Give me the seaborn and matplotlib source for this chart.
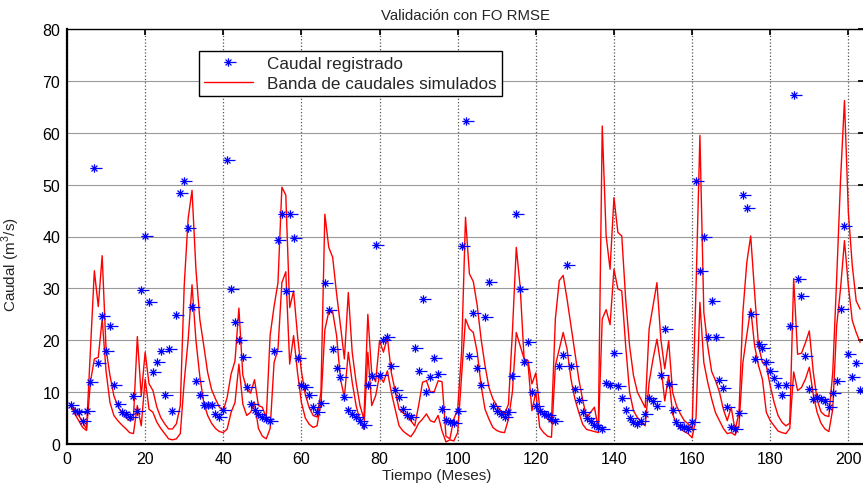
import numpy as np
import pandas as pd
import matplotlib
matplotlib.use("Agg")
import matplotlib.pyplot as plt
import seaborn as sns
from matplotlib.path import Path

# ---- data ----
months = list(range(1, 204))

observed = [7.6, 6.4, 6.1, 4.4, 6.3, 11.9, 53.3, 15.7, 24.7, 17.9,
            22.8, 11.4, 7.8, 6.2, 5.8, 5.3, 9.2, 6.3, 29.7, 40.1,
            27.4, 13.8, 15.9, 18.0, 9.5, 18.3, 6.3, 24.9, 48.3, 50.7,
            41.6, 26.5, 12.2, 9.4, 7.5, 7.6, 7.6, 5.8, 5.3, 6.6,
            54.8, 29.9, 23.6, 20.0, 16.8, 10.9, 7.8, 6.6, 5.8, 5.3,
            4.8, 4.4, 17.9, 39.3, 44.3, 29.4, 44.3, 39.8, 16.6, 11.4,
            10.9, 9.4, 7.1, 6.2, 8.0, 31.0, 25.8, 18.3, 14.6, 13.0,
            9.0, 6.6, 5.8, 5.3, 4.5, 3.7, 11.4, 13.2, 38.4, 13.3,
            20.0, 20.7, 15.1, 10.4, 9.0, 6.7, 5.6, 5.3, 18.6, 14.1,
            27.9, 10.1, 13.0, 16.6, 13.5, 6.7, 4.6, 4.3, 4.0, 6.3,
            38.2, 62.2, 16.9, 25.2, 14.6, 11.4, 24.4, 31.3, 7.3, 6.3,
            5.8, 5.3, 6.1, 13.2, 44.3, 29.9, 15.9, 19.6, 10.0, 7.4,
            6.4, 5.8, 5.5, 4.9, 4.5, 15.1, 17.1, 34.6, 15.1, 10.6,
            8.5, 6.1, 5.1, 4.5, 3.7, 3.2, 2.9, 11.8, 11.4, 17.5,
            11.2, 8.8, 6.6, 5.1, 4.3, 3.9, 4.5, 5.8, 8.9, 8.3,
            7.4, 13.3, 22.2, 11.6, 6.6, 4.3, 3.5, 3.2, 2.9, 4.3,
            50.7, 33.3, 39.9, 20.6, 27.5, 20.7, 12.3, 10.7, 7.1, 3.2,
            2.8, 6.0, 48.0, 45.4, 25.0, 16.4, 19.3, 18.6, 15.9, 14.1,
            12.8, 11.4, 9.5, 11.4, 22.8, 67.3, 31.9, 28.6, 16.9, 10.6,
            8.7, 9.0, 8.7, 8.2, 7.1, 9.8, 12.1, 26.0, 42.1, 17.3,
            13.0, 15.6, 10.5]

band_upper = [7.7, 6.7, 5.5, 4.2, 2.9, 18.0, 33.4, 26.5, 36.3, 18.3,
              13.2, 9.3, 7.3, 6.1, 5.1, 4.5, 4.8, 20.7, 9.3, 17.7,
              11.6, 10.3, 7.1, 5.1, 3.9, 2.9, 2.9, 3.9, 7.4, 30.5,
              43.4, 48.9, 33.7, 24.0, 19.0, 13.8, 10.5, 8.7, 7.1, 6.4,
              9.0, 13.5, 16.0, 26.2, 13.3, 10.6, 9.8, 12.4, 7.4, 7.1,
              5.0, 21.0, 26.5, 31.1, 49.5, 48.0, 26.3, 29.5, 20.9, 14.0,
              9.5, 7.0, 5.5, 5.2, 10.0, 44.3, 37.9, 36.0, 29.0, 22.8,
              16.4, 29.2, 17.7, 11.9, 7.4, 4.8, 25.0, 13.5, 12.0, 19.9,
              17.7, 20.6, 13.8, 10.3, 6.7, 6.0, 5.5, 4.5, 3.5, 7.4,
              11.9, 12.2, 10.0, 10.1, 12.2, 12.0, 1.5, 1.0, 4.8, 6.7,
              17.7, 43.7, 32.8, 31.3, 26.7, 20.2, 15.1, 10.9, 8.7, 7.4,
              6.4, 5.8, 7.7, 21.5, 37.9, 30.2, 16.4, 16.1, 11.6, 13.7,
              7.0, 5.8, 4.8, 4.2, 24.1, 31.5, 32.5, 27.9, 22.8, 17.7,
              12.5, 8.5, 5.1, 6.1, 7.1, 2.9, 61.3, 40.1, 33.7, 47.5,
              40.8, 40.1, 27.9, 18.9, 13.2, 10.0, 8.5, 7.0, 22.2, 26.7,
              31.1, 20.2, 14.5, 19.9, 10.0, 7.4, 5.8, 4.5, 3.9, 2.9,
              30.0, 59.5, 25.4, 18.9, 14.0, 12.2, 10.0, 6.7, 4.5, 7.1,
              2.6, 6.1, 25.4, 35.0, 40.1, 29.2, 18.9, 15.7, 15.1, 11.2,
              8.0, 5.5, 4.2, 3.5, 4.0, 31.9, 17.3, 17.5, 19.5, 21.8,
              14.0, 8.5, 6.2, 5.5, 5.3, 13.8, 31.8, 51.0, 66.2, 44.6,
              34.4, 27.6, 26.0]

band_lower = [7.4, 5.8, 4.5, 3.2, 2.6, 12.0, 16.4, 16.7, 24.1, 14.0,
              8.0, 5.5, 4.5, 3.7, 3.0, 2.2, 2.0, 7.4, 3.5, 12.5,
              6.7, 6.1, 4.2, 3.0, 2.0, 1.0, 0.8, 1.0, 2.0, 12.0,
              20.0, 30.7, 20.0, 13.0, 8.0, 5.5, 4.0, 3.0, 2.4, 2.2,
              2.9, 6.1, 8.0, 15.4, 7.7, 5.5, 6.1, 8.0, 3.0, 1.5,
              1.0, 3.0, 15.7, 18.3, 31.1, 33.2, 15.4, 20.9, 13.8, 8.0,
              5.0, 3.8, 3.2, 3.5, 8.0, 22.0, 25.5, 25.5, 20.9, 12.5,
              9.0, 17.7, 11.9, 7.4, 4.5, 2.8, 17.7, 7.4, 9.3, 13.2,
              11.9, 14.1, 10.0, 6.7, 3.5, 2.5, 1.9, 1.4, 2.5, 4.0,
              4.8, 5.8, 4.5, 4.2, 5.5, 2.5, 0.4, 0.8, 0.6, 2.2,
              13.2, 24.1, 22.2, 21.5, 17.7, 11.2, 6.7, 4.8, 3.2, 2.6,
              2.3, 2.2, 4.8, 10.0, 21.5, 18.9, 16.4, 15.5, 6.4, 10.0,
              3.2, 2.2, 1.5, 1.3, 15.1, 18.3, 21.5, 18.3, 12.5, 8.7,
              6.1, 3.8, 2.8, 2.6, 2.4, 2.2, 24.1, 25.9, 23.0, 33.7,
              29.9, 29.5, 18.9, 10.0, 6.4, 5.1, 4.2, 3.5, 11.9, 16.4,
              20.2, 15.1, 8.3, 13.2, 5.8, 3.9, 2.9, 2.4, 2.0, 1.2,
              5.0, 27.3, 15.7, 11.9, 8.7, 6.0, 4.5, 3.0, 2.0, 2.2,
              1.7, 3.5, 15.7, 21.0, 26.1, 18.9, 15.1, 12.5, 6.1, 4.5,
              3.5, 2.5, 2.2, 2.0, 3.0, 13.9, 10.3, 10.9, 12.5, 14.8,
              9.6, 6.1, 4.0, 2.9, 2.4, 6.7, 22.8, 30.0, 39.2, 30.5,
              23.8, 21.5, 19.6]

x_ticks = list(range(0, 201, 20))
y_ticks = list(range(0, 81, 10))

title = "Validación con FO RMSE"
xlabel = "Tiempo (Meses)"
ylabel = "Caudal (m$^3$/s)"
label_obs = "Caudal registrado"
label_band = "Banda de caudales simulados"

# ---- style ----
sns.set_theme(style="white")
plt.rcParams["font.family"] = ["Liberation Sans", "DejaVu Sans"]
plt.rcParams["mathtext.fontset"] = "custom"
plt.rcParams["mathtext.rm"] = "Liberation Sans"

df_obs = pd.DataFrame({"mes": months, "caudal": observed})
df_up = pd.DataFrame({"mes": months, "caudal": band_upper})
df_lo = pd.DataFrame({"mes": months, "caudal": band_lower})

fig = plt.figure(figsize=(8.63, 4.89), dpi=100)
ax = fig.add_axes([67 / 863, 44 / 489, 797 / 863, 415 / 489])

# asterisk marker with a longer right arm
verts = [(-1, 0), (1.9, 0), (0, -1), (0, 1),
         (-0.7, -0.7), (0.7, 0.7), (-0.7, 0.7), (0.7, -0.7)]
codes = [Path.MOVETO, Path.LINETO] * 4
star = Path(verts, codes)

sns.lineplot(data=df_up, x="mes", y="caudal", ax=ax, color="#ff0000",
             linewidth=1.0, label=label_band, sort=False, estimator=None)
sns.lineplot(data=df_lo, x="mes", y="caudal", ax=ax, color="#ff0000",
             linewidth=1.0, label="_nolegend_", sort=False, estimator=None)
sns.lineplot(data=df_obs, x="mes", y="caudal", ax=ax, color="#0000ff",
             linestyle="none", marker=star, markersize=11.5,
             markeredgewidth=0.9, markerfacecolor="none",
             markeredgecolor="#0000ff", label=label_obs, sort=False,
             estimator=None)

ax.set_xlim(0, 204)
ax.set_ylim(0, 80)
ax.set_xticks(x_ticks)
ax.set_yticks(y_ticks)
ax.tick_params(direction="in", top=True, right=True, length=4,
               labelsize=11.5, colors="black", pad=5)

ax.yaxis.grid(True, color="#9a9a9a", linestyle="-", linewidth=0.8)
ax.xaxis.grid(True, color="#555555", linestyle=":", linewidth=0.9)
ax.set_axisbelow(True)
for s in ax.spines.values():
    s.set_color("black")
    s.set_linewidth(1.0)
ax.spines["left"].set_linewidth(1.6)
ax.spines["bottom"].set_linewidth(1.6)

ax.set_title(title, fontsize=10.8, pad=7)
ax.set_xlabel(xlabel, fontsize=11)
ax.set_ylabel(ylabel, fontsize=11)
ax.xaxis.set_label_coords((437 - 67) / 797, -0.058)
ax.yaxis.set_label_coords(-0.056, 0.434)

h, l = ax.get_legend_handles_labels()
order = [l.index(label_obs), l.index(label_band)]
leg = ax.legend([h[i] for i in order], [l[i] for i in order],
                loc="upper left", bbox_to_anchor=(0.165, 0.948),
                fontsize=12.3, frameon=True, fancybox=False,
                edgecolor="black", framealpha=1, borderpad=0.3,
                handlelength=2.9, labelspacing=0.3, borderaxespad=0)
leg.get_frame().set_linewidth(1.0)

fig.savefig("out.png", dpi=100)
